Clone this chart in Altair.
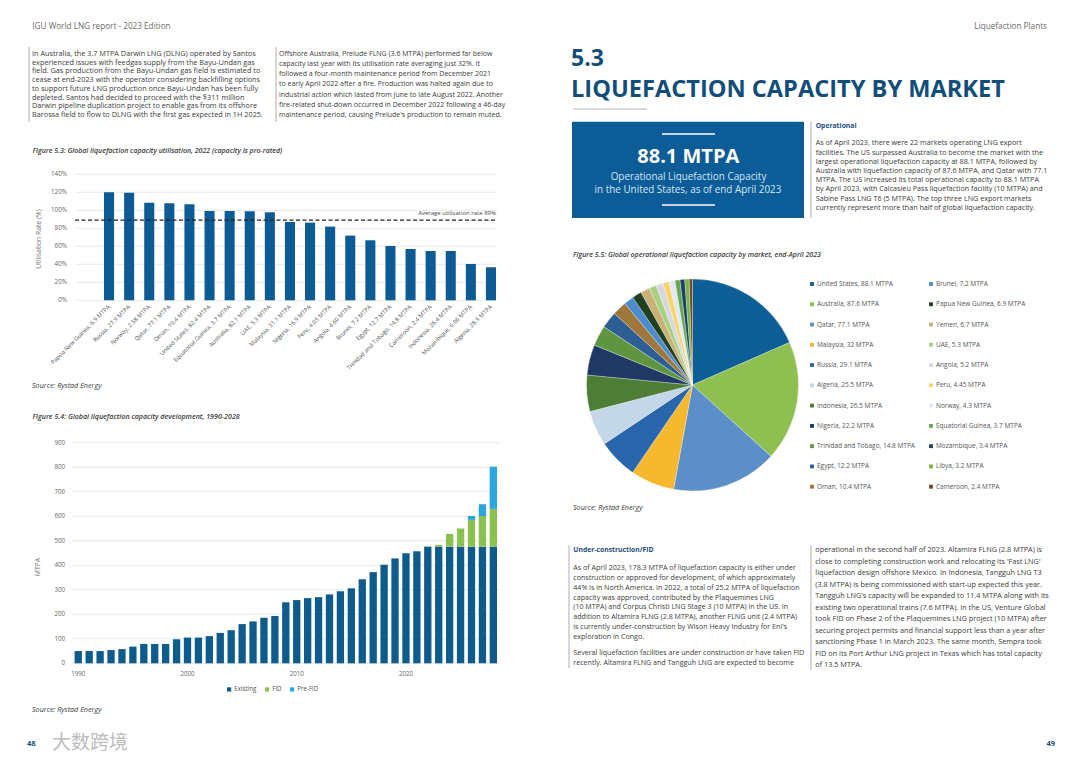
import altair as alt
import pandas as pd

FONT = "Open Sans"
W, H = 1064, 745


def X(v):
    return round(v - 8, 2)


def Y(v):
    return round(v - 8, 2)


# ---------------- data ----------------
util_labels = [
    "Papua New Guinea, 6.9 MTPA", "Russia, 27.9 MTPA", "Norway, 2.58 MTPA",
    "Qatar, 77.1 MTPA", "Oman, 10.4 MTPA", "United States, 82.4 MTPA",
    "Equatorial Guinea, 3.7 MTPA", "Australia, 82.1 MTPA", "UAE, 5.3 MTPA",
    "Malaysia, 31.1 MTPA", "Nigeria, 16.9 MTPA", "Peru, 4.05 MTPA",
    "Angola, 4.60 MTPA", "Brunei, 7.2 MTPA", "Egypt, 12.7 MTPA",
    "Trinidad and Tobago, 14.8 MTPA", "Cameroon, 2.4 MTPA", "Indonesia, 26.4 MTPA",
    "Mozambique, 0.96 MTPA", "Algeria, 28.9 MTPA",
]
util_values = [120, 119.6, 108.5, 107.8, 106.7, 99.3, 99.3, 98.9, 97.8, 87,
               86.3, 81.9, 71.9, 66.7, 60.4, 57, 54.8, 54.8, 40.4, 36.7]
util_ticks = [0, 20, 40, 60, 80, 100, 120, 140]
util_average = [89]

cap_years = [1990, 1991, 1992, 1993, 1994, 1995, 1996, 1997, 1998, 1999,
             2000, 2001, 2002, 2003, 2004, 2005, 2006, 2007, 2008, 2009,
             2010, 2011, 2012, 2013, 2014, 2015, 2016, 2017, 2018, 2019,
             2020, 2021, 2022, 2023, 2024, 2025, 2026, 2027, 2028]
cap_existing = [50, 50, 50, 54, 58, 68, 79, 79, 79, 98,
                105, 105, 111, 124, 135, 160, 171, 186, 193, 249,
                258, 266, 270, 281, 294, 306, 343, 372, 402, 428,
                449, 457, 476, 476, 476, 476, 476, 476, 476]
cap_fid = [0, 0, 0, 0, 0, 0, 0, 0, 0, 0,
           0, 0, 0, 0, 0, 0, 0, 0, 0, 0,
           0, 0, 0, 0, 0, 0, 0, 0, 0, 0,
           0, 0, 0, 7, 52, 74, 109, 125, 154]
cap_prefid = [0, 0, 0, 0, 0, 0, 0, 0, 0, 0,
              0, 0, 0, 0, 0, 0, 0, 0, 0, 0,
              0, 0, 0, 0, 0, 0, 0, 0, 0, 0,
              0, 0, 0, 0, 0, 0, 16, 48, 172]
cap_ticks = [0, 100, 200, 300, 400, 500, 600, 700, 800, 900]
cap_label_years = [1990, 2000, 2010, 2020]
cap_series = ["Existing", "FID", "Pre-FID"]
cap_colors = ["#0f5b8c", "#8cc152", "#2ca7dd"]

pie_names = [
    "United States", "Australia", "Qatar", "Malaysia", "Russia", "Algeria",
    "Indonesia", "Nigeria", "Trinidad and Tobago", "Egypt", "Oman",
    "Brunei", "Papua New Guinea", "Yemen", "UAE", "Angola", "Peru", "Norway",
    "Equatorial Guinea", "Mozambique", "Libya", "Cameroon",
]
pie_values = [88.1, 87.6, 77.1, 32, 29.1, 25.5, 26.5, 22.2, 14.8, 12.2, 10.4,
              7.2, 6.9, 6.7, 5.3, 5.2, 4.45, 4.3, 3.7, 3.4, 3.2, 2.4]
pie_colors = [
    "#0d5e97", "#8dc051", "#5c8fc7", "#f5b82e", "#2a66ac", "#c3d7e8",
    "#4e7d35", "#1f3864", "#5f9540", "#2d5f95", "#a0773a",
    "#4a8ccc", "#233f21", "#c9b076", "#a9cf80", "#d5d9de", "#f8d36a", "#dfe9f3",
    "#6aa84f", "#1a3f6e", "#7cb342", "#6b4f2a",
]

# ---------------- text ----------------
header_left = "IGU World LNG report - 2023 Edition"
header_right = "Liquefaction Plants"

para_a = [
    "In Australia, the 3.7 MTPA Darwin LNG (DLNG) operated by Santos",
    "experienced issues with feedgas supply from the Bayu-Undan gas",
    "field. Gas production from the Bayu-Undan gas field is estimated to",
    "cease at end-2023 with the operator considering backfilling options",
    "to support future LNG production once Bayu-Undan has been fully",
    "depleted. Santos had decided to proceed with the $311 million",
    "Darwin pipeline duplication project to enable gas from its offshore",
    "Barossa field to flow to DLNG with the first gas expected in 1H 2025.",
]
para_b = [
    "Offshore Australia, Prelude FLNG (3.6 MTPA) performed far below",
    "capacity last year with its utilisation rate averaging just 32%. It",
    "followed a four-month maintenance period from December 2021",
    "to early April 2022 after a fire. Production was halted again due to",
    "industrial action which lasted from June to late August 2022. Another",
    "fire-related shut-down occurred in December 2022 following a 46-day",
    "maintenance period, causing Prelude's production to remain muted.",
]
para_op = [
    "As of April 2023, there were 22 markets operating LNG export",
    "facilities. The US surpassed Australia to become the market with the",
    "largest operational liquefaction capacity at 88.1 MTPA, followed by",
    "Australia with liquefaction capacity of 87.6 MTPA, and Qatar with 77.1",
    "MTPA. The US increased its total operational capacity to 88.1 MTPA",
    "by April 2023, with Calcasieu Pass liquefaction facility (10 MTPA) and",
    "Sabine Pass LNG T6 (5 MTPA). The top three LNG export markets",
    "currently represent more than half of global liquefaction capacity.",
]
para_uc1 = [
    "As of April 2023, 178.3 MTPA of liquefaction capacity is either under",
    "construction or approved for development, of which approximately",
    "44% is in North America. In 2022, a total of 25.2 MTPA of liquefaction",
    "capacity was approved, contributed by the Plaquemines LNG",
    "(10 MTPA) and Corpus Christi LNG Stage 3 (10 MTPA) in the US. In",
    "addition to Altamira FLNG (2.8 MTPA), another FLNG unit (2.4 MTPA)",
    "is currently under-construction by Wison Heavy Industry for Eni's",
    "exploration in Congo.",
]
para_uc2 = [
    "Several liquefaction facilities are under construction or have taken FID",
    "recently. Altamira FLNG and Tangguh LNG are expected to become",
]
para_r = [
    "operational in the second half of 2023. Altamira FLNG (2.8 MTPA) is",
    "close to completing construction work and relocating its 'Fast LNG'",
    "liquefaction design offshore Mexico. In Indonesia, Tangguh LNG T3",
    "(3.8 MTPA) is being commissioned with start-up expected this year.",
    "Tangguh LNG's capacity will be expanded to 11.4 MTPA along with its",
    "existing two operational trains (7.6 MTPA). In the US, Venture Global",
    "took FID on Phase 2 of the Plaquemines LNG project (10 MTPA) after",
    "securing project permits and financial support less than a year after",
    "sanctioning Phase 1 in March 2023. The same month, Sempra took",
    "FID on its Port Arthur LNG project in Texas which has total capacity",
    "of 13.5 MTPA.",
]

fig53 = "Figure 5.3: Global liquefaction capacity utilisation, 2022 (capacity is pro-rated)"
fig54 = "Figure 5.4: Global liquefaction capacity development, 1990-2028"
fig55 = "Figure 5.5: Global operational liquefaction capacity by market, end-April 2023"
source = "Source: Rystad Energy"

TXT = "#3b3b3b"
HEAD = "#1d4f7c"
static = pd.DataFrame({"k": [1]})


def para(lines, x, y0, step, size, color=TXT, weight="normal", style="normal",
         align="left", font=FONT, baseline="middle"):
    n = len(lines)
    df = pd.DataFrame({"i": list(range(n)), "line": lines})
    if n == 1:
        y = alt.value(Y(y0))
    else:
        y = alt.Y("i:Q", axis=None,
                  scale=alt.Scale(domain=[0, n - 1], range=[Y(y0), Y(y0 + step * (n - 1))],
                                  nice=False, zero=False))
    return alt.Chart(df).mark_text(
        align=align, baseline=baseline, font=font, fontSize=size, color=color,
        fontWeight=weight, fontStyle=style,
    ).encode(x=alt.value(X(x)), y=y, text="line:N")


def hrule(x1, x2, y, color, w):
    return alt.Chart(static).mark_rule(color=color, strokeWidth=w).encode(
        x=alt.value(X(x1)), x2=alt.value(X(x2)), y=alt.value(Y(y)))


def vrule(x, y1, y2, color, w):
    return alt.Chart(static).mark_rule(color=color, strokeWidth=w).encode(
        x=alt.value(X(x)), y=alt.value(Y(y1)), y2=alt.value(Y(y2)))


layers = []

# ---------- page text (left) ----------
layers.append(para([header_left], 32.3, 27.3, 0, 8.2, color="#6a6a6a"))
layers.append(para([header_right], 1047, 27.3, 0, 8.2, color="#6a6a6a", align="right"))
layers.append(vrule(29, 47, 122, "#9a9a9a", 0.8))
layers.append(para(para_a, 32, 54, 8.7, 7.3))
layers.append(vrule(276, 47, 122, "#9a9a9a", 0.8))
layers.append(para(para_b, 279, 54, 10.15, 7.0))

# ---------- Figure 5.3 ----------
layers.append(para([fig53], 32.5, 150.7, 0, 7.0, style="italic", weight=600))
ys1 = alt.Scale(domain=[0, 140], range=[Y(300.3), Y(174.3)], nice=False, zero=True)
xs1 = alt.Scale(type="band", domain=util_labels, range=[X(99), X(501)],
                paddingInner=0.5, paddingOuter=0.25)
df_t1 = pd.DataFrame({"t": util_ticks})
layers.append(alt.Chart(df_t1).mark_rule(color="#e2e2e2", strokeWidth=0.8).encode(
    y=alt.Y("t:Q", scale=ys1, axis=None), x=alt.value(X(75)), x2=alt.value(X(497))))
layers.append(alt.Chart(df_t1).transform_calculate(lab="datum.t + '%'").mark_text(
    align="right", baseline="middle", font=FONT, fontSize=6.3, color="#666666").encode(
    y=alt.Y("t:Q", scale=ys1, axis=None), x=alt.value(X(67)), text="lab:N"))
df_util = pd.DataFrame({"name": util_labels, "v": util_values})
layers.append(alt.Chart(df_util).mark_bar(color="#0c5b94").encode(
    x=alt.X("name:N", scale=xs1, axis=None),
    y=alt.Y("v:Q", scale=ys1, axis=None)))
layers.append(alt.Chart(df_util).mark_text(
    angle=315, align="right", baseline="middle", font=FONT, fontSize=5.9, color="#555555").encode(
    x=alt.X("name:N", scale=xs1, axis=None), y=alt.value(Y(306)), text="name:N"))
df_avg = pd.DataFrame({"v": util_average})
layers.append(alt.Chart(df_avg).mark_rule(color="#222222", strokeWidth=1.3, strokeDash=[4, 2.5]).encode(
    y=alt.Y("v:Q", scale=ys1, axis=None), x=alt.value(X(75)), x2=alt.value(X(497))))
layers.append(alt.Chart(df_avg).transform_calculate(
    lab="'Average utilisation rate ' + datum.v + '%'").mark_text(
    align="right", baseline="middle", font=FONT, fontSize=6.0, color="#444444").encode(
    y=alt.value(Y(212.7)), x=alt.value(X(496)), text="lab:N"))
layers.append(alt.Chart(static).mark_text(
    angle=270, align="center", baseline="middle", font=FONT, fontSize=6.8, color="#777777").encode(
    x=alt.value(X(38.5)), y=alt.value(Y(239)), text=alt.value("Utilisation Rate (%)")))
layers.append(para([source], 32, 385.7, 0, 7.2, style="italic"))

# ---------- Figure 5.4 ----------
layers.append(para([fig54], 32.5, 417.3, 0, 7.1, style="italic", weight=600))
ys2 = alt.Scale(domain=[0, 900], range=[Y(663.3), Y(442.7)], nice=False, zero=True)
xs2 = alt.Scale(type="band", domain=cap_years, range=[X(72.8), X(498.8)],
                paddingInner=0.33, paddingOuter=0.165)
df_t2 = pd.DataFrame({"t": cap_ticks})
layers.append(alt.Chart(df_t2).mark_rule(color="#e2e2e2", strokeWidth=0.8).encode(
    y=alt.Y("t:Q", scale=ys2, axis=None), x=alt.value(X(72)), x2=alt.value(X(500))))
layers.append(alt.Chart(df_t2).mark_text(
    align="right", baseline="middle", font=FONT, fontSize=6.2, color="#666666").encode(
    y=alt.Y("t:Q", scale=ys2, axis=None), x=alt.value(X(65)), text="t:N"))
rows = []
for i, yr in enumerate(cap_years):
    rows.append({"year": yr, "series": "Existing", "value": cap_existing[i], "so": 0})
    rows.append({"year": yr, "series": "FID", "value": cap_fid[i], "so": 1})
    rows.append({"year": yr, "series": "Pre-FID", "value": cap_prefid[i], "so": 2})
df_cap = pd.DataFrame(rows)
layers.append(alt.Chart(df_cap).mark_bar().encode(
    x=alt.X("year:O", scale=xs2, axis=None),
    y=alt.Y("value:Q", stack="zero", scale=ys2, axis=None),
    color=alt.Color("series:N", scale=alt.Scale(domain=cap_series, range=cap_colors),
                    legend=alt.Legend(title=None, orient="none", legendX=X(226), legendY=Y(686),
                                      direction="horizontal", symbolType="square", symbolSize=18,
                                      symbolStrokeWidth=0, labelFont=FONT, labelFontSize=6.2,
                                      labelColor="#555555", columnPadding=7, labelOffset=2,
                                      padding=0)),
    order=alt.Order("so:Q")))
df_yl = pd.DataFrame({"year": cap_label_years})
layers.append(alt.Chart(df_yl).mark_text(
    align="center", baseline="middle", font=FONT, fontSize=6.2, color="#666666").encode(
    x=alt.X("year:O", scale=xs2, axis=None), y=alt.value(Y(674.3)), text="year:N"))
layers.append(alt.Chart(static).mark_text(
    angle=270, align="center", baseline="middle", font=FONT, fontSize=6.8, color="#777777").encode(
    x=alt.value(X(38)), y=alt.value(Y(567)), text=alt.value("MTPA")))
layers.append(para([source], 32, 710, 0, 7.2, style="italic"))

# page number + watermark
layers.append(alt.Chart(static).mark_text(
    align="left", baseline="middle", font="Noto Sans CJK SC", fontSize=19, color="#bdbdbd").encode(
    x=alt.value(X(52)), y=alt.value(Y(743)), text=alt.value("大数跨境")))
layers.append(para(["48"], 27, 744, 0, 7.5, color="#1b5170", weight="bold"))
layers.append(para(["49"], 1055, 744, 0, 7.5, color="#1b5170", weight="bold", align="right"))

# ---------- right page ----------
layers.append(para(["5.3"], 571, 66, 0, 23, color="#124e79", weight="bold", baseline="alphabetic"))
layers.append(para(["LIQUEFACTION CAPACITY BY MARKET"], 571, 97, 0, 23.6, color="#124e79",
                   weight="bold", baseline="alphabetic"))
layers.append(hrule(573, 647, 109, "#a0a0a0", 0.8))
layers.append(alt.Chart(static).mark_rect(color="#0b5c97").encode(
    x=alt.value(X(572)), x2=alt.value(X(804)), y=alt.value(Y(121.7)), y2=alt.value(Y(218))))
layers.append(hrule(662, 715, 134, "#ffffff", 1.3))
layers.append(hrule(662, 715, 205, "#ffffff", 1.3))
layers.append(para(["88.1 MTPA"], 688.3, 163.3, 0, 20, color="#ffffff", weight="bold",
                   align="center", baseline="alphabetic"))
layers.append(para(["Operational Liquefaction Capacity"], 688.5, 177.3, 0, 9.9, color="#d3e7f6",
                   align="center"))
layers.append(para(["in the United States, as of end April 2023"], 688, 189.5, 0, 9.9, color="#d3e7f6",
                   align="center"))
layers.append(vrule(811, 121.7, 218, "#9a9a9a", 0.8))
layers.append(para(["Operational"], 815.7, 125.5, 0, 6.8, color=HEAD, weight="bold"))
layers.append(para(para_op, 815.7, 143.3, 9.2, 7.2))

# ---------- Figure 5.5 ----------
layers.append(para([fig55], 573, 255, 0, 7.0, style="italic", weight=600))
pie_scale = alt.Scale(domain=pie_names, range=pie_colors)
df_pie = pd.DataFrame({"name": pie_names, "value": pie_values, "idx": list(range(len(pie_names))),
                       "label": [f"{n}, {v:g} MTPA" for n, v in zip(pie_names, pie_values)]})
layers.append(alt.Chart(df_pie).mark_arc(radius=106, stroke="#ffffff", strokeWidth=0.3).encode(
    theta=alt.Theta("value:Q", stack=True),
    color=alt.Color("name:N", scale=pie_scale, legend=None),
    order=alt.Order("idx:Q"),
    x=alt.value(X(692.5)), y=alt.value(Y(385))))
leg_base = alt.Chart(df_pie).transform_calculate(
    col="floor(datum.idx / 11)", row="datum.idx % 11")
leg_x = alt.X("col:O", axis=None,
              scale=alt.Scale(type="point", domain=[0, 1], range=[X(812), X(931)], padding=0))
leg_y = alt.Y("row:O", axis=None,
              scale=alt.Scale(type="point", domain=list(range(11)), range=[Y(284), Y(486.7)], padding=0))
layers.append(leg_base.mark_square(size=15, opacity=1, strokeWidth=0).encode(
    x=leg_x, y=leg_y, color=alt.Color("name:N", scale=pie_scale, legend=None)))
layers.append(leg_base.mark_text(align="left", baseline="middle", dx=5, font=FONT, fontSize=6.5,
                                 color="#555555").encode(x=leg_x, y=leg_y, text="label:N"))
layers.append(para([source], 573, 508.3, 0, 7.2, style="italic"))

# ---------- under construction ----------
layers.append(vrule(569, 545, 668, "#9a9a9a", 0.8))
layers.append(para(["Under-construction/FID"], 573.3, 550, 0, 6.8, color=HEAD, weight="bold"))
layers.append(para(para_uc1, 573.3, 568.3, 9.76, 7.1))
layers.append(para(para_uc2, 573.3, 653.3, 9.4, 7.1))
layers.append(vrule(811, 545, 670, "#9a9a9a", 0.8))
layers.append(para(para_r, 815.3, 550, 11.5, 7.3))

chart = alt.layer(*layers).properties(
    width=W, height=H, padding=0, background="white",
    autosize=alt.AutoSizeParams(type="none"),
).resolve_scale(
    x="independent", y="independent", color="independent", theta="independent"
).configure_view(strokeWidth=0)

chart.save("out.html", embed_options={"renderer": "svg", "actions": False})
